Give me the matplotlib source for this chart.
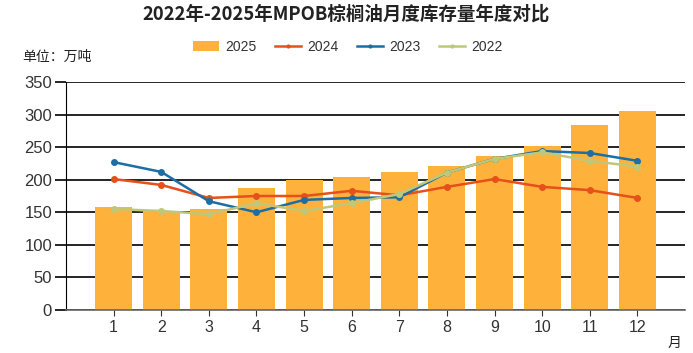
import matplotlib.pyplot as plt
import numpy as np

plt.rcParams['font.family'] = ['Liberation Sans', 'Noto Sans CJK SC', 'DejaVu Sans']

months = [1, 2, 3, 4, 5, 6, 7, 8, 9, 10, 11, 12]
month_labels = [str(m) for m in months]
y2025 = [158, 152, 155, 187, 200, 204, 212, 221, 236, 252, 284, 306]
y2024 = [201, 192, 172, 175, 175, 183, 176, 189, 201, 189, 184, 172]
y2023 = [227, 212, 167, 150, 169, 172, 173, 211, 232, 244, 241, 229]
y2022 = [155, 152, 147, 164, 152, 164, 178, 211, 232, 242, 229, 220]

fig = plt.figure(figsize=(6.93, 3.53), dpi=100)
ax = fig.add_axes([66/693, 1-310/353, 619/693, 228/353])

b = ax.bar(months, y2025, width=0.78, color='#FFB23B', label='2025', zorder=2)
l1, = ax.plot(months, y2024, color='#E5501B', lw=1.8, marker='o', ms=4, label='2024', zorder=3)
l2, = ax.plot(months, y2023, color='#1C6EA4', lw=1.8, marker='o', ms=4, label='2023', zorder=3)
l3, = ax.plot(months, y2022, color='#BFC779', lw=1.8, marker='o', ms=4, label='2022', zorder=3)

ax.set_xlim(0, 13)
ax.set_ylim(0, 350)
ax.set_yticks(np.arange(0, 351, 50))
ax.set_xticks(months)
ax.set_xticklabels(month_labels)
ax.grid(axis='y', color='black', lw=1.2, zorder=0)
ax.set_axisbelow(True)
for s in ['top', 'right']:
    ax.spines[s].set_visible(False)
ax.spines['left'].set_color('black')
ax.spines['bottom'].set_color('#666666')
ax.spines['bottom'].set_linewidth(1.2)
ax.tick_params(axis='y', length=8, width=1.2, colors='#333333', labelsize=12, pad=2)
ax.tick_params(axis='x', length=4, colors='#333333', labelsize=11.5, pad=3)
ax.tick_params(axis='y', color='black')

fig.text(0.5, 1-14/353, '2022年-2025年MPOB棕榈油月度库存量年度对比', ha='center', va='center',
         fontsize=13.3, fontweight='bold', color='#222222', family=['Noto Sans CJK SC'])
fig.text(22/693, 1-57/353, '单位：万吨', ha='left', va='center', fontsize=10, color='#222222',
         family=['Noto Sans CJK SC'])
fig.text(675/693, 1-343/353, '月', ha='center', va='center', fontsize=10, color='#222222',
         family=['Noto Sans CJK SC'])

leg = fig.legend([b, l1, l2, l3], ['2025', '2024', '2023', '2022'], loc='center',
                 bbox_to_anchor=(348/693, 1-47/353), ncol=4, frameon=False,
                 fontsize=10, handlelength=1.9, columnspacing=1.3, handletextpad=0.45,
                 markerscale=0.5)
for t in leg.get_texts():
    t.set_color('#333333')

fig.savefig('out.png', dpi=100)
